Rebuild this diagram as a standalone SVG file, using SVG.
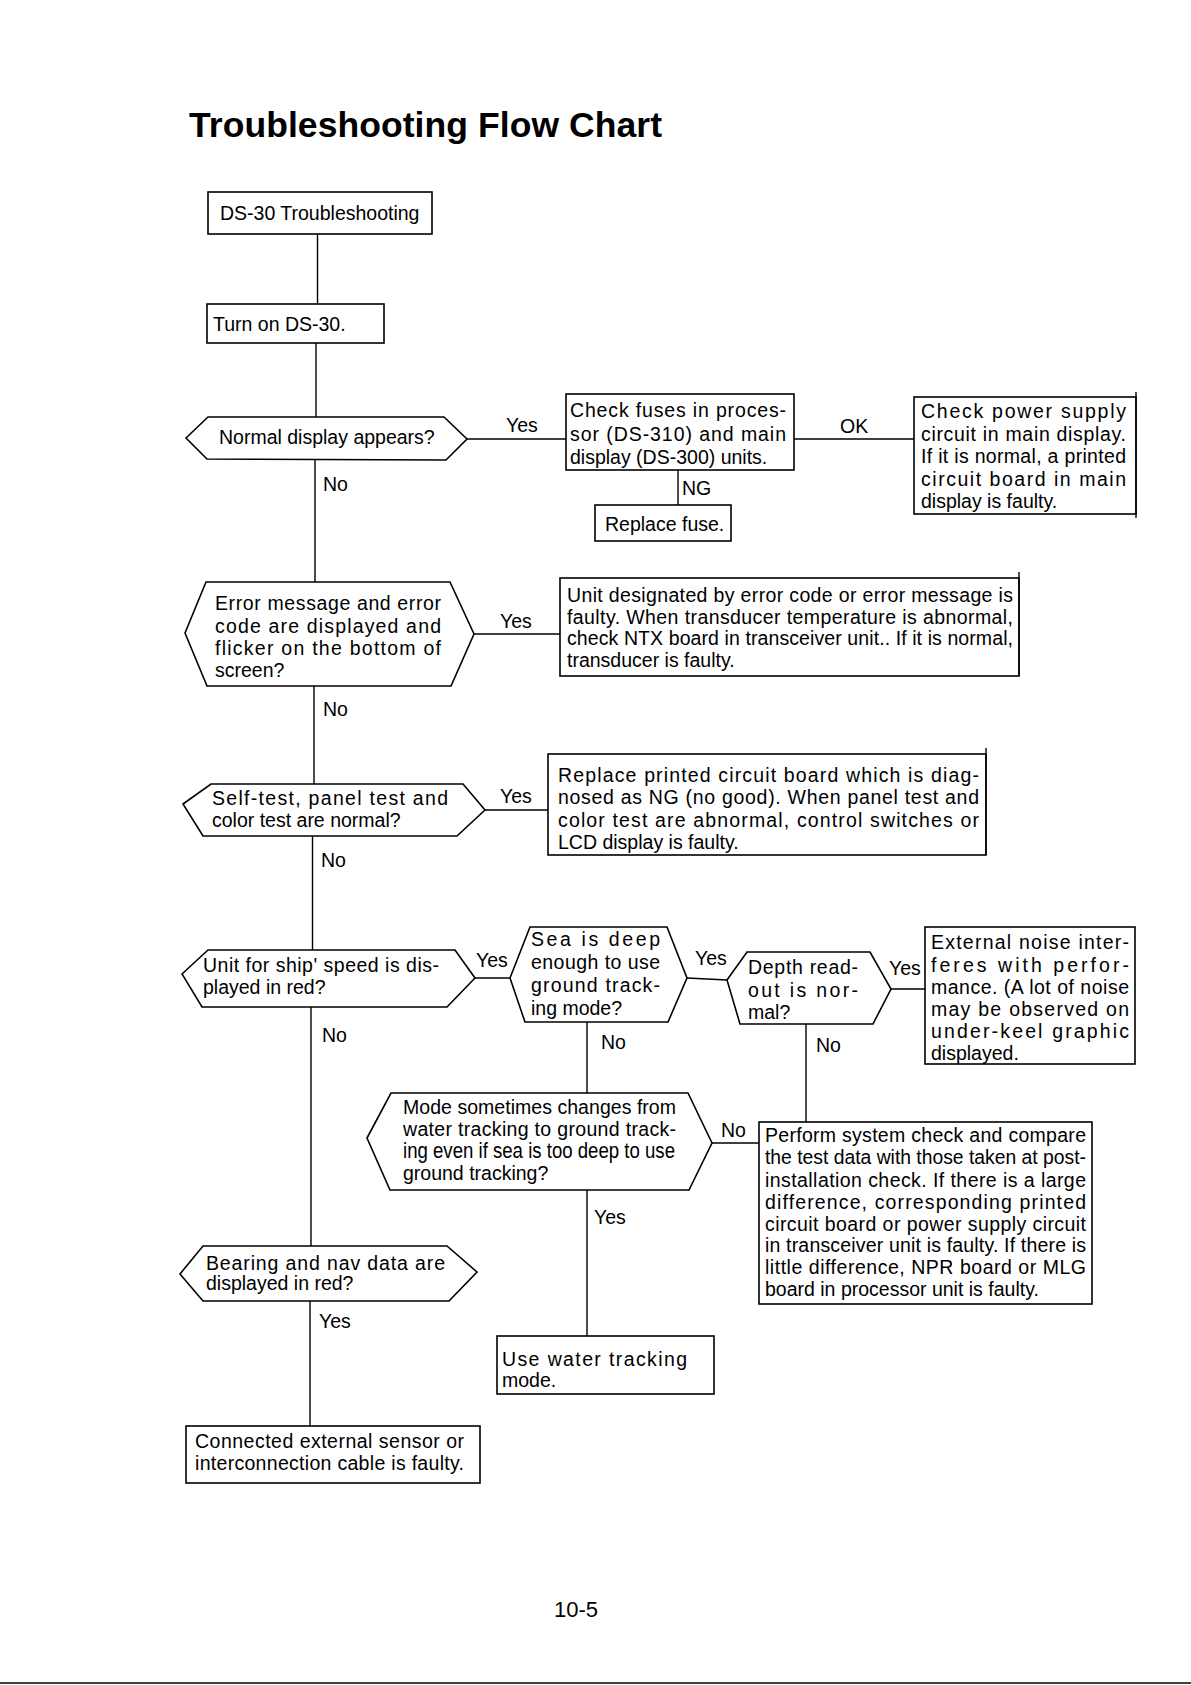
<svg xmlns="http://www.w3.org/2000/svg" width="1191" height="1685" viewBox="0 0 1191 1685">
<style>
.t{font-family:"Liberation Sans",Arial,Helvetica,sans-serif;font-size:19.5px;fill:#000}
.ttl{font-family:"Liberation Sans",Arial,Helvetica,sans-serif;font-size:35.5px;font-weight:bold;fill:#000}
.box{fill:#fff;stroke:#000;stroke-width:1.6}
.ln{fill:none;stroke:#000;stroke-width:1.4}
</style>
<rect x="0" y="0" width="1191" height="1685" fill="#fff"/>
<text class="ttl" x="189" y="137" textLength="473" lengthAdjust="spacing">Troubleshooting Flow Chart</text>

<g id="connectors">
<line class="ln" x1="317.5" y1="234" x2="317.5" y2="304"/>
<line class="ln" x1="316" y1="343" x2="316" y2="417"/>
<line class="ln" x1="467" y1="439" x2="566" y2="439"/>
<line class="ln" x1="794" y1="439" x2="914" y2="439"/>
<line class="ln" x1="678" y1="470" x2="678" y2="505"/>
<line class="ln" x1="315" y1="459" x2="315" y2="582"/>
<line class="ln" x1="474" y1="634" x2="560" y2="634"/>
<line class="ln" x1="314" y1="686" x2="314" y2="784"/>
<line class="ln" x1="485" y1="810" x2="548" y2="810"/>
<line class="ln" x1="312.5" y1="836" x2="312.5" y2="950"/>
<line class="ln" x1="475" y1="978" x2="510" y2="978"/>
<line class="ln" x1="687" y1="978" x2="727" y2="980"/>
<line class="ln" x1="891" y1="989" x2="925" y2="989"/>
<line class="ln" x1="587" y1="1022" x2="587" y2="1093"/>
<line class="ln" x1="806" y1="1024" x2="806" y2="1122"/>
<line class="ln" x1="712" y1="1143" x2="759" y2="1143"/>
<line class="ln" x1="587" y1="1190" x2="587" y2="1336"/>
<line class="ln" x1="311" y1="1007" x2="311" y2="1246"/>
<line class="ln" x1="310" y1="1301" x2="310" y2="1426"/>
</g>

<g id="n_ds30">
<rect class="box" x="208" y="192" width="224" height="42"/>
<text class="t" x="220" y="220">DS-30 Troubleshooting</text>
</g>
<g id="n_turnon">
<rect class="box" x="207" y="304" width="177" height="39"/>
<text class="t" x="213" y="331">Turn on DS-30.</text>
</g>
<g id="n_normal">
<polygon class="box" points="186,438 208,417 444,417 467,439 446,460 207,459"/>
<text class="t" x="219" y="444">Normal display appears?</text>
</g>
<g id="n_checkfuse">
<rect class="box" x="566" y="394" width="228" height="76"/>
<text class="t" x="570" y="417" textLength="216" lengthAdjust="spacing">Check fuses in proces-</text>
<text class="t" x="570" y="440.5" textLength="216" lengthAdjust="spacing">sor (DS-310) and main</text>
<text class="t" x="570" y="464">display (DS-300) units.</text>
</g>
<g id="n_checkpower">
<rect class="box" x="914" y="397" width="222" height="117"/>
<line class="ln" x1="1136" y1="392" x2="1136" y2="518"/>
<text class="t" x="921" y="418" textLength="205" lengthAdjust="spacing">Check power supply</text>
<text class="t" x="921" y="440.5" textLength="205" lengthAdjust="spacing">circuit in main display.</text>
<text class="t" x="921" y="463" textLength="205" lengthAdjust="spacing">If it is normal, a printed</text>
<text class="t" x="921" y="485.5" textLength="205" lengthAdjust="spacing">circuit board in main</text>
<text class="t" x="921" y="508">display is faulty.</text>
</g>
<g id="n_replacefuse">
<rect class="box" x="595" y="505" width="136" height="36"/>
<text class="t" x="605" y="531">Replace fuse.</text>
</g>
<g id="n_error">
<polygon class="box" points="185,633 206,582 450,582 474,634 451,686 207,686"/>
<text class="t" x="215" y="610" textLength="226" lengthAdjust="spacing">Error message and error</text>
<text class="t" x="215" y="632.5" textLength="226" lengthAdjust="spacing">code are displayed and</text>
<text class="t" x="215" y="655" textLength="226" lengthAdjust="spacing">flicker on the bottom of</text>
<text class="t" x="215" y="677">screen?</text>
</g>
<g id="n_unitdesig">
<rect class="box" x="560" y="578" width="459" height="98"/>
<line class="ln" x1="1019" y1="572" x2="1019" y2="676"/>
<text class="t" x="567" y="602" textLength="446" lengthAdjust="spacing">Unit designated by error code or error message is</text>
<text class="t" x="567" y="623.5" textLength="446" lengthAdjust="spacing">faulty. When transducer temperature is abnormal,</text>
<text class="t" x="567" y="645" textLength="446" lengthAdjust="spacing">check NTX board in transceiver  unit.. If it is normal,</text>
<text class="t" x="567" y="667">transducer is faulty.</text>
</g>
<g id="n_selftest">
<polygon class="box" points="183,804 211,784 463,784 485,810 457,836 203,836"/>
<text class="t" x="212" y="805" textLength="236" lengthAdjust="spacing">Self-test,  panel test and</text>
<text class="t" x="212" y="826.5">color test are normal?</text>
</g>
<g id="n_replacepcb">
<rect class="box" x="548" y="754" width="438" height="101"/>
<line class="ln" x1="986" y1="748" x2="986" y2="855"/>
<text class="t" x="558" y="781.5" textLength="421" lengthAdjust="spacing">Replace printed circuit board which is diag-</text>
<text class="t" x="558" y="804" textLength="421" lengthAdjust="spacing">nosed as NG (no good). When panel test and</text>
<text class="t" x="558" y="826.5" textLength="421" lengthAdjust="spacing">color test are abnormal, control switches or</text>
<text class="t" x="558" y="849">LCD display is faulty.</text>
</g>
<g id="n_shipspeed">
<polygon class="box" points="182,974 208,950 455,950 475,978 447,1007 202,1007"/>
<text class="t" x="203" y="972" textLength="236" lengthAdjust="spacing">Unit for ship' speed is dis-</text>
<text class="t" x="203" y="994">played in red?</text>
</g>
<g id="n_sea">
<polygon class="box" points="510,978 530,927 667,927 687,978 668,1022 525,1022"/>
<text class="t" x="531" y="946" textLength="129" lengthAdjust="spacing">Sea is deep</text>
<text class="t" x="531" y="969" textLength="129" lengthAdjust="spacing">enough to use</text>
<text class="t" x="531" y="992" textLength="129" lengthAdjust="spacing">ground track-</text>
<text class="t" x="531" y="1015">ing mode?</text>
</g>
<g id="n_depth">
<polygon class="box" points="727,980 747,952 870,952 891,989 873,1024 740,1024"/>
<text class="t" x="748" y="974" textLength="110" lengthAdjust="spacing">Depth read-</text>
<text class="t" x="748" y="997" textLength="110" lengthAdjust="spacing">out is nor-</text>
<text class="t" x="748" y="1019">mal?</text>
</g>
<g id="n_external">
<rect class="box" x="925" y="927" width="210" height="137"/>
<text class="t" x="931" y="949" textLength="198" lengthAdjust="spacing">External noise inter-</text>
<text class="t" x="931" y="971.5" textLength="198" lengthAdjust="spacing">feres with perfor-</text>
<text class="t" x="931" y="994" textLength="198" lengthAdjust="spacing">mance. (A lot of noise</text>
<text class="t" x="931" y="1016" textLength="198" lengthAdjust="spacing">may be observed on</text>
<text class="t" x="931" y="1038" textLength="198" lengthAdjust="spacing">under-keel graphic</text>
<text class="t" x="931" y="1060">displayed.</text>
</g>
<g id="n_mode">
<polygon class="box" points="367,1138 391,1093 688,1093 712,1143 689,1190 390,1190"/>
<text class="t" x="403" y="1114" textLength="273" lengthAdjust="spacing">Mode sometimes changes from</text>
<text class="t" x="403" y="1136" textLength="273" lengthAdjust="spacing">water tracking to ground track-</text>
<text class="t" x="403" y="1158" style="font-size:22px" textLength="272" lengthAdjust="spacingAndGlyphs">ing even if sea is too deep to use</text>
<text class="t" x="403" y="1180">ground tracking?</text>
</g>
<g id="n_perform">
<rect class="box" x="759" y="1122" width="333" height="182"/>
<text class="t" x="765" y="1142" textLength="321" lengthAdjust="spacing">Perform system check and compare</text>
<text class="t" x="765" y="1164" style="font-size:20.5px" textLength="321" lengthAdjust="spacingAndGlyphs">the test data with those taken at post-</text>
<text class="t" x="765" y="1186.5" textLength="321" lengthAdjust="spacing">installation check. If there is a large</text>
<text class="t" x="765" y="1208.5" textLength="321" lengthAdjust="spacing">difference, corresponding printed</text>
<text class="t" x="765" y="1230.5" textLength="321" lengthAdjust="spacing">circuit board or power supply circuit</text>
<text class="t" x="765" y="1252" textLength="321" lengthAdjust="spacing">in transceiver unit is faulty. If there is</text>
<text class="t" x="765" y="1274" textLength="321" lengthAdjust="spacing">little difference, NPR board or MLG</text>
<text class="t" x="765" y="1296">board in processor unit is faulty.</text>
</g>
<g id="n_usewater">
<rect class="box" x="497" y="1336" width="217" height="58"/>
<text class="t" x="502" y="1366" textLength="185" lengthAdjust="spacing">Use water tracking</text>
<text class="t" x="502" y="1387">mode.</text>
</g>
<g id="n_bearing">
<polygon class="box" points="180,1274 203,1246 447,1246 477,1272 449,1301 203,1301"/>
<text class="t" x="206" y="1269.5" textLength="239" lengthAdjust="spacing">Bearing and nav data are</text>
<text class="t" x="206" y="1290">displayed in red?</text>
</g>
<g id="n_connected">
<rect class="box" x="186" y="1426" width="294" height="57"/>
<text class="t" x="195" y="1448" textLength="269" lengthAdjust="spacing">Connected external sensor or</text>
<text class="t" x="195" y="1469.5" textLength="269" lengthAdjust="spacing">interconnection cable is faulty.</text>
</g>

<g id="labels">
<text class="t" x="506" y="432">Yes</text>
<text class="t" x="840" y="433">OK</text>
<text class="t" x="682" y="495">NG</text>
<text class="t" x="323" y="491">No</text>
<text class="t" x="500" y="628">Yes</text>
<text class="t" x="323" y="716">No</text>
<text class="t" x="500" y="803">Yes</text>
<text class="t" x="321" y="867">No</text>
<text class="t" x="476" y="967">Yes</text>
<text class="t" x="695" y="965">Yes</text>
<text class="t" x="889" y="975">Yes</text>
<text class="t" x="322" y="1042">No</text>
<text class="t" x="601" y="1049">No</text>
<text class="t" x="816" y="1052">No</text>
<text class="t" x="721" y="1137">No</text>
<text class="t" x="594" y="1224">Yes</text>
<text class="t" x="319" y="1328">Yes</text>
</g>
<text class="t" x="554" y="1617" style="font-size:22px">10-5</text>
<line class="ln" x1="0" y1="1683" x2="1191" y2="1683"/>
</svg>
